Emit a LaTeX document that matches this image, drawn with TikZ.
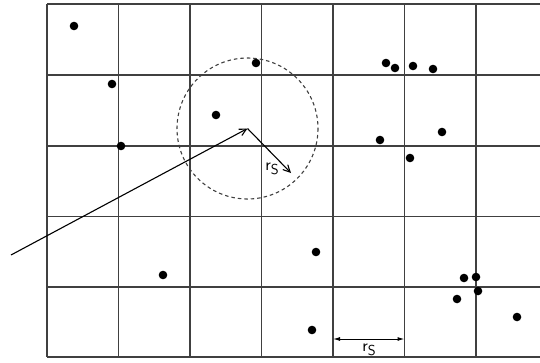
\documentclass[tikz,border=0pt]{standalone}
\usetikzlibrary{arrows.meta}
\begin{document}
\begin{tikzpicture}[x=1pt,y=-1pt,
  gridline/.style={draw=black!75,line width=1.1pt},
  pt/.style={fill=black},
  arr/.style={line width=1.1pt,-{Straight Barb[length=7pt,width=7pt]}},
  dimarr/.style={line width=1pt,{Latex[length=7pt,width=4pt]}-{Latex[length=7pt,width=4pt]}},
  lbl/.style={font=\sffamily\LARGE,inner sep=0pt}]
\useasboundingbox (0,0) rectangle (540,362);
% grid
\foreach \x in {47,118.5,190,261.5,333,404.5,476}
  \draw[gridline] (\x,4) -- (\x,357);
\foreach \y in {4,75,146,216.5,287,357}
  \draw[gridline] (47,\y) -- (540,\y);
% dots
\foreach \p in {(74,26),(112,84),(121,146),(216,115),(256,63),
  (386,63),(395,68),(413,66),(433,69),(442,132),(380,140),(410,158),
  (163,275),(316,252),(312,330),(464,278),(476,277),(478,291),(457,299),(517,317)}
  \fill[pt] \p circle (4.3);
% circle
\coordinate (c) at (247.5,128.5);
\draw[black!75,line width=1.1pt,dash pattern=on 3.5pt off 3pt] (c) circle (70.5);
\coordinate (s) at (11,255);
\draw[arr] (s) -- (c);
\coordinate (r) at (291,173);
\draw[arr] (c) -- (r);
\node[lbl] (rl) at (272,169) {r\raisebox{-0.45ex}{\Large S}};
% dimension
\coordinate (d1) at (333,339);
\coordinate (d2) at (404.5,339);
\draw[dimarr] (d1) -- (d2);
\node[lbl] (dl) at (369,350) {r\raisebox{-0.45ex}{\Large S}};
\end{tikzpicture}
\end{document}
